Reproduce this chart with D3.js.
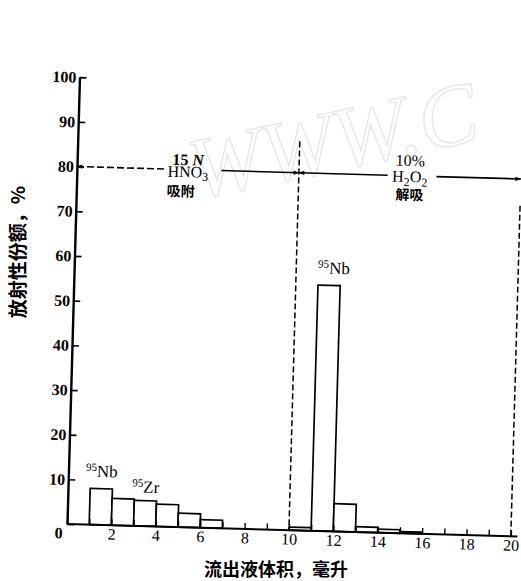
<!DOCTYPE html>
<html><head><meta charset="utf-8">
<script src="https://cdn.jsdelivr.net/npm/d3@7"></script>
<style>
body{margin:0;background:#fff;}
svg{display:block;}
</style></head>
<body>
<div id="chart"></div>
<script>
// ---- data ----
const binStart = [1, 2, 3, 4, 5, 6, 10, 11, 12, 13, 14, 15];
const binEnd   = [2, 3, 4, 5, 6, 7, 11, 12, 13, 14, 15, 16];
const activity = [8.1, 6.0, 5.7, 5.0, 3.1, 1.8, 0.7, 55.0, 6.2, 1.2, 0.8, 0.4];
const xTickValues = d3.range(0, 21);
const xTickLabels = [2, 4, 6, 8, 10, 12, 14, 16, 18, 20];
const yTickLabels = [0, 10, 20, 30, 40, 50, 60, 70, 80, 90, 100];
const xTitle = "流出液体积，毫升";
const yTitle = "放射性份额，%";
const phaseBounds = [0, 10, 20];
const phaseLevel = 80;

const W = 521, H = 581;
const svg = d3.select("#chart").append("svg").attr("width", W).attr("height", H);

// faint watermark
svg.append("text").attr("x", 196).attr("y", 200)
  .attr("transform", "rotate(-12,196,200)")
  .attr("font-family", "Liberation Serif").attr("font-style", "italic")
  .attr("font-size", 88).attr("fill", "none")
  .attr("stroke", "#e6e6e6").attr("stroke-width", 1.3)
  .text("WWW.C");

const defs = svg.append("defs");
defs.append("marker").attr("id", "ah").attr("viewBox", "0 0 10 10")
  .attr("refX", 9).attr("refY", 5).attr("markerWidth", 9).attr("markerHeight", 6)
  .attr("orient", "auto-start-reverse").attr("markerUnits", "userSpaceOnUse")
  .append("path").attr("d", "M0,1.5L10,5L0,8.5Z").attr("fill", "#000");

const ox = 67, oy = 524;
const x = d3.scaleLinear().domain([0, 20]).range([0, 444]);
const y = d3.scaleLinear().domain([0, 100]).range([0, -447]);

const g = svg.append("g").attr("transform", `translate(${ox},${oy}) rotate(1.6)`);

// bars
const bars = binStart.map((s, i) => ({s, e: binEnd[i], v: activity[i]}));
g.selectAll("rect.bar").data(bars).join("rect").attr("class", "bar")
  .attr("x", d => x(d.s)).attr("y", d => y(d.v))
  .attr("width", d => x(d.e) - x(d.s)).attr("height", d => -y(d.v))
  .attr("fill", "#fff").attr("stroke", "#000").attr("stroke-width", 1.7);

// x axis
const xa = g.append("g").call(
  d3.axisBottom(x).tickValues(xTickValues).tickSizeInner(-6).tickSizeOuter(0).tickPadding(3)
    .tickFormat(d => xTickLabels.includes(d) ? d : ""));
xa.select(".domain").attr("stroke-width", 2).attr("d", `M0,0H${x(20.3)}`);
xa.selectAll(".tick line").attr("stroke-width", 1.4);
xa.selectAll("text").attr("font-family", "Liberation Serif").attr("font-size", 16).attr("fill", "#000");

// y axis
const ya = g.append("g").call(
  d3.axisLeft(y).tickValues(yTickLabels).tickSizeInner(-7).tickSizeOuter(0).tickPadding(3));
ya.select(".domain").attr("stroke-width", 2.4);
ya.selectAll(".tick line").attr("stroke-width", 1.6);
ya.selectAll("text").attr("font-family", "Liberation Serif").attr("font-weight", "bold")
  .attr("font-size", 16).attr("fill", "#000");
ya.selectAll(".tick").filter(d => d === 0).select("text").attr("transform", "translate(-1,9)");

// dashed phase separators
const vline = d3.line().x(d => x(d[0])).y(d => y(d[1]));
g.append("path").attr("d", vline([[phaseBounds[1], 87], [phaseBounds[1], 0]]))
  .attr("stroke", "#000").attr("stroke-width", 1.5).attr("stroke-dasharray", "6,3").attr("fill", "none");
g.append("path").attr("d", vline([[phaseBounds[2], 74], [phaseBounds[2], 0]]))
  .attr("stroke", "#000").attr("stroke-width", 1.5).attr("stroke-dasharray", "6,3").attr("fill", "none");

// phase arrows
function seg(a, b, opts) {
  const p = g.append("path").attr("d", vline([[a, phaseLevel], [b, phaseLevel]]))
    .attr("stroke", "#000").attr("stroke-width", 1.6).attr("fill", "none");
  if (opts.dash) p.attr("stroke-dasharray", "7,3");
  if (opts.start) p.attr("marker-start", "url(#ah)");
  if (opts.end) p.attr("marker-end", "url(#ah)");
}
seg(phaseBounds[0], 4.0, {dash: true, start: true});
seg(6.5, phaseBounds[1], {end: true});
seg(phaseBounds[1], 14.0, {start: true});
seg(16.2, phaseBounds[2], {end: true});

// phase labels
function lbl(xv, yv, size, parts, opts = {}) {
  const t = g.append("text").attr("x", x(xv)).attr("y", y(yv)).attr("text-anchor", "middle")
    .attr("font-family", opts.cjk ? "Noto Sans CJK SC" : "Liberation Serif")
    .attr("font-weight", opts.bold ? "bold" : "normal")
    .attr("font-size", size).attr("fill", "#000");
  parts.forEach(p => {
    const ts = t.append("tspan").text(p.t);
    if (p.size) ts.attr("font-size", p.size);
    if (p.dy) ts.attr("dy", p.dy);
    if (p.italic) ts.attr("font-style", "italic");
  });
  return t;
}
lbl(5.0, 81, 16, [{t: "15 "}, {t: "N", italic: true}], {bold: true});
lbl(5.0, 78.3, 16, [{t: "HNO"}, {t: "3", size: 12, dy: 3}]);
lbl(4.7, 74, 14, [{t: "吸附"}], {cjk: true, bold: true});
lbl(15.0, 82.2, 16, [{t: "10%"}]);
lbl(15.0, 78.6, 16, [{t: "H"}, {t: "2", size: 12, dy: 4}, {t: "O", dy: -4}, {t: "2", size: 12, dy: 4}]);
lbl(15.0, 74.6, 14, [{t: "解吸"}], {cjk: true, bold: true});

// nuclide labels
lbl(1.5, 10.7, 17, [{t: "95", size: 11, dy: -6}, {t: "Nb", dy: 6}]);
lbl(3.5, 7.5, 17, [{t: "95", size: 11, dy: -6}, {t: "Zr", dy: 6}]);
lbl(11.7, 57.6, 17, [{t: "95", size: 11, dy: -6}, {t: "Nb", dy: 6}]);

// axis titles
svg.append("text").attr("x", 276).attr("y", 576).attr("text-anchor", "middle")
  .attr("font-family", "Noto Sans CJK SC").attr("font-weight", "bold").attr("font-size", 18)
  .attr("fill", "#000").text(xTitle);
svg.append("text").attr("transform", "translate(25,252) rotate(-90)").attr("text-anchor", "middle")
  .attr("font-family", "Noto Sans CJK SC").attr("font-weight", "bold").attr("font-size", 19)
  .attr("fill", "#000").text(yTitle);
</script>
</body></html>
